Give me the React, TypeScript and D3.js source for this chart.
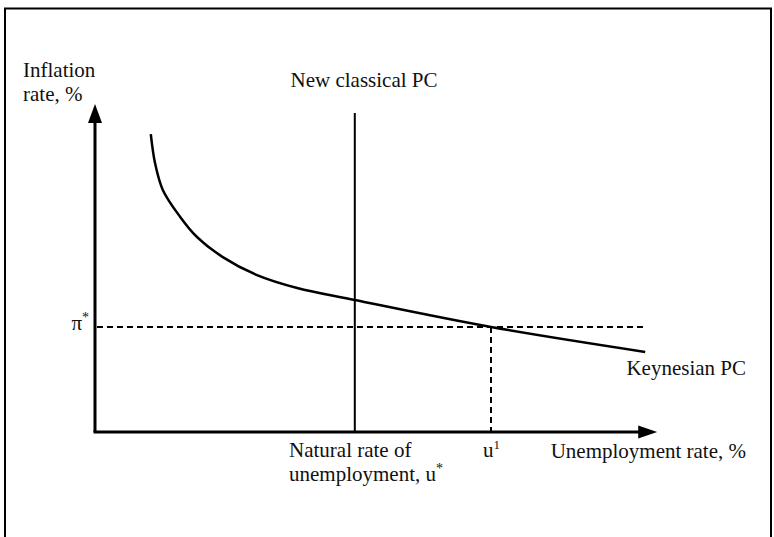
import React from "react";
import * as d3 from "d3";

// Keynesian Phillips curve (arbitrary units)
const keynesU = [9.3, 10, 11.3, 14.2, 17, 21.3, 27, 33.7, 43.3, 66, 91.7];
const keynesPi = [99.3, 89.7, 80.7, 71.7, 65, 58.3, 52.3, 48, 44, 35, 26.7];

const naturalRate = 43.3; // u*
const uOne = 66; // u¹
const piStar = 35; // π*
const newClassicalTop = 106.3;
const axisMax = { x: 93.7, y: 109.3 };

const W = 774;
const H = 537;

export default function App() {
  const x = d3.scaleLinear().domain([0, 100]).range([95, 695]);
  const y = d3.scaleLinear().domain([0, 100]).range([432, 132]);

  const pts: [number, number][] = keynesU.map((u, i) => [u, keynesPi[i]]);
  const line = d3
    .line<[number, number]>()
    .x((d) => x(d[0]))
    .y((d) => y(d[1]))
    .curve(d3.curveCatmullRom.alpha(0.5));

  const x0 = x(0);
  const y0 = y(0);
  const xTip = x(axisMax.x);
  const yTip = y(axisMax.y);
  const font = "'Liberation Serif', 'Times New Roman', serif";

  return (
    <svg
      width={W}
      height={H}
      style={{ position: "absolute", left: 0, top: 0, background: "#fff" }}
      fontFamily={font}
      fontSize={21}
      fill="#111"
    >
      {/* frame, open at the bottom */}
      <rect x={5} y={8.5} width={766} height={545} fill="none" stroke="#000" strokeWidth={2} />

      {/* axes */}
      <line x1={x0} y1={y0} x2={x0} y2={yTip + 14} stroke="#000" strokeWidth={3} />
      <path d={`M${x0 - 7},${yTip + 19} L${x0},${yTip} L${x0 + 7},${yTip + 19} Z`} fill="#000" />
      <line x1={x0 - 1.5} y1={y0} x2={xTip - 14} y2={y0} stroke="#000" strokeWidth={3} />
      <path d={`M${xTip - 19},${y0 - 6.5} L${xTip},${y0} L${xTip - 19},${y0 + 6.5} Z`} fill="#000" />

      {/* new classical PC */}
      <line x1={x(naturalRate)} y1={y(newClassicalTop)} x2={x(naturalRate)} y2={y0} stroke="#000" strokeWidth={2} />

      {/* dashed guides */}
      <line x1={x0 + 2} y1={y(piStar)} x2={x(keynesU[keynesU.length - 1])} y2={y(piStar)}
        stroke="#000" strokeWidth={2} strokeDasharray="6,4" />
      <line x1={x(uOne)} y1={y(piStar)} x2={x(uOne)} y2={y0}
        stroke="#000" strokeWidth={2} strokeDasharray="6,4" />

      {/* Keynesian PC */}
      <path d={line(pts) ?? ""} fill="none" stroke="#000" strokeWidth={2.5} />

      {/* labels */}
      <text x={23} y={77}>Inflation</text>
      <text x={23} y={101}>rate, %</text>
      <text x={364} y={87} textAnchor="middle">New classical PC</text>
      <text x={89} y={330} textAnchor="end">
        π<tspan dy={-8} fontSize={14}>*</tspan>
      </text>
      <text x={746} y={375} textAnchor="end">Keynesian PC</text>
      <text x={289} y={457}>Natural rate of</text>
      <text x={289} y={481}>
        unemployment, u<tspan dy={-8} fontSize={14}>*</tspan>
      </text>
      <text x={483} y={457}>
        u<tspan dy={-8} fontSize={13}>1</tspan>
      </text>
      <text x={746} y={458} textAnchor="end">Unemployment rate, %</text>
    </svg>
  );
}
